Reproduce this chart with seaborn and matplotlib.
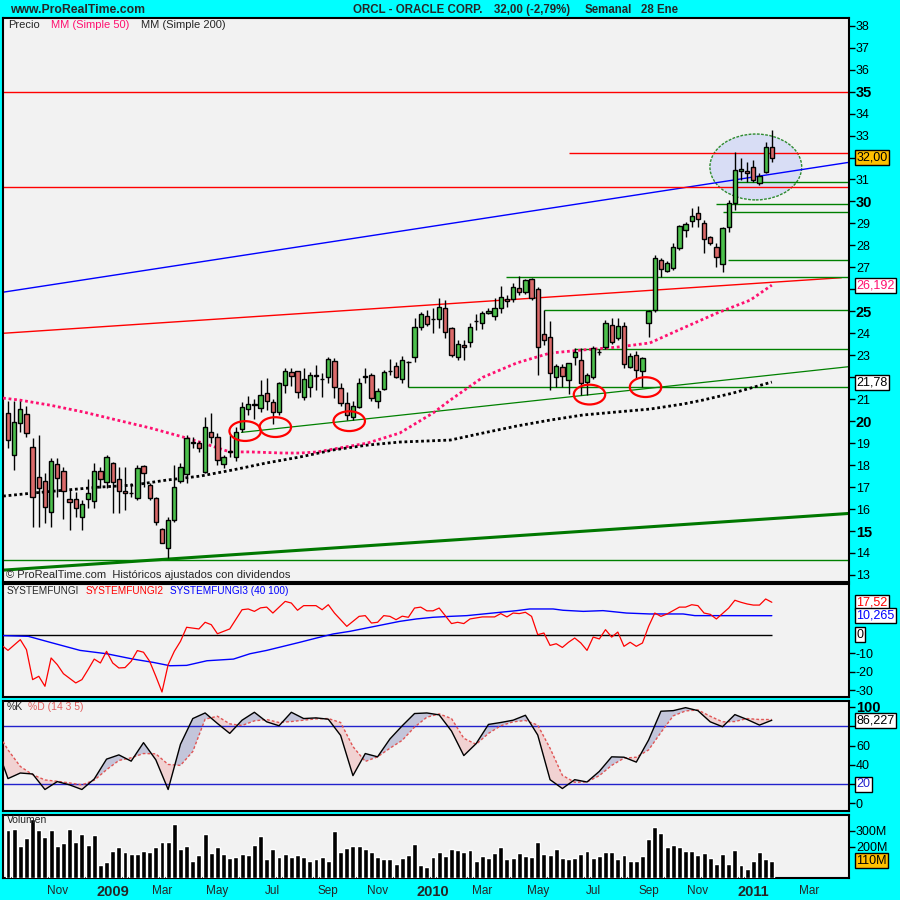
import numpy as np
import pandas as pd
import matplotlib
matplotlib.use("Agg")
import matplotlib.pyplot as plt
from matplotlib.patches import Ellipse
import seaborn as sns

sns.set_style("white")
plt.rcParams['font.family'] = ['Liberation Sans', 'DejaVu Sans']

# velas semanales ORCL, barra 0 = semana del 8 sep 2008
opens = [20.36, 18.46, 19.90, 20.33, 18.81, 17.44, 17.29, 15.88, 18.03, 17.75,
         16.47, 16.47, 15.62, 16.47, 16.36, 17.73, 17.25, 18.08, 17.35, 16.82,
         16.72, 16.52, 17.96, 17.09, 16.49, 15.08, 14.21, 15.50, 17.28, 17.60,
         19.00, 19.00, 17.67, 19.49, 19.26, 18.03, 18.60, 18.38, 19.64, 20.54,
         20.75, 20.60, 21.30, 20.89, 20.40, 21.63, 22.22, 22.28, 21.11, 21.57,
         22.05, 21.90, 22.02, 22.72, 21.49, 20.81, 20.20, 20.66, 22.00, 22.10,
         20.90, 21.46, 22.28, 22.51, 21.90, 22.70, 22.90, 24.27, 24.79, 24.63,
         24.63, 25.13, 24.22, 22.90, 23.46, 23.62, 24.56, 24.48, 24.94, 24.80,
         25.13, 25.56, 25.56, 26.04, 25.89, 26.45, 26.00, 23.97, 23.84, 22.02,
         22.48, 21.87, 22.93, 22.78, 21.80, 21.99, 23.13, 23.39, 24.38, 23.77,
         24.33, 22.45, 23.01, 22.30, 24.48, 25.06, 27.33, 26.83, 26.96, 27.87,
         28.70, 29.11, 29.46, 29.03, 28.37, 27.91, 27.15, 28.82, 29.95, 31.40,
         31.37, 31.55, 30.82, 31.35, 32.49]
highs = [20.90, 20.90, 20.90, 20.70, 19.22, 19.37, 17.63, 18.31, 18.31, 17.93,
         16.87, 16.79, 16.41, 17.35, 18.08, 17.93, 18.46, 18.16, 17.93, 17.93,
         17.17, 18.00, 18.00, 17.20, 16.56, 15.12, 15.62, 18.00, 18.08, 19.37,
         19.30, 19.10, 20.20, 20.35, 19.45, 18.46, 19.37, 19.75, 20.89, 21.14,
         21.00, 21.87, 21.95, 21.00, 21.80, 22.40, 22.44, 22.28, 22.40, 22.25,
         22.56, 22.20, 22.93, 22.86, 21.75, 21.34, 20.90, 21.95, 22.40, 22.20,
         21.50, 22.33, 22.81, 22.70, 22.96, 22.75, 24.68, 24.98, 25.06, 25.13,
         25.59, 25.50, 24.30, 23.69, 23.69, 24.45, 24.90, 25.00, 25.16, 25.59,
         26.15, 25.74, 26.27, 26.60, 26.46, 26.50, 26.10, 25.06, 24.57, 22.60,
         22.60, 22.66, 23.31, 23.31, 22.20, 23.40, 23.30, 24.60, 24.68, 24.70,
         24.50, 23.10, 23.20, 22.90, 25.06, 27.56, 27.41, 27.30, 28.10, 28.93,
         29.08, 29.69, 29.79, 29.15, 28.43, 28.09, 28.85, 30.07, 32.26, 31.96,
         31.80, 31.90, 31.30, 32.70, 33.27]
lows = [18.80, 17.78, 19.50, 19.30, 15.20, 15.20, 15.35, 15.20, 16.56, 15.53,
        15.05, 15.62, 15.05, 16.03, 16.03, 16.97, 16.94, 15.80, 15.80, 15.96,
        16.56, 16.41, 17.02, 16.41, 15.27, 14.44, 13.76, 15.43, 17.17, 17.17,
        18.80, 18.60, 17.65, 19.00, 18.00, 17.85, 18.38, 18.19, 19.52, 20.30,
        20.10, 20.40, 20.50, 19.85, 20.30, 21.27, 21.60, 21.04, 20.96, 21.10,
        21.40, 21.10, 21.72, 21.04, 20.70, 20.05, 20.05, 20.60, 21.75, 20.90,
        20.60, 21.40, 22.10, 21.95, 21.72, 21.54, 22.70, 24.15, 24.33, 24.00,
        24.22, 23.80, 22.90, 22.78, 22.78, 23.39, 24.15, 24.20, 24.90, 24.60,
        24.91, 25.20, 25.44, 25.74, 25.80, 25.50, 22.10, 23.46, 21.42, 21.57,
        21.57, 21.22, 22.56, 21.19, 21.20, 21.90, 23.00, 23.30, 23.50, 23.70,
        22.40, 22.40, 21.90, 21.54, 23.84, 24.98, 26.55, 26.80, 26.90, 27.80,
        28.40, 28.85, 28.85, 27.64, 28.02, 27.03, 26.77, 28.59, 29.60, 30.98,
        30.90, 30.90, 30.75, 31.30, 31.80]
closes = [19.14, 19.98, 20.54, 19.45, 16.56, 16.94, 16.11, 18.20, 17.43, 16.84,
          16.32, 16.03, 16.21, 16.74, 17.73, 17.35, 18.35, 17.25, 16.82, 16.72,
          16.75, 17.88, 17.63, 16.49, 15.43, 14.44, 15.50, 17.02, 17.93, 19.22,
          19.07, 18.80, 19.72, 19.30, 18.23, 18.35, 18.62, 19.52, 20.63, 20.78,
          20.80, 21.19, 20.90, 20.40, 21.72, 22.28, 22.07, 21.34, 21.90, 22.10,
          22.10, 21.90, 22.81, 21.54, 20.81, 20.28, 20.69, 21.72, 22.05, 21.04,
          21.37, 22.25, 22.30, 22.02, 22.78, 22.70, 24.27, 24.86, 24.42, 24.65,
          25.18, 24.07, 23.01, 23.51, 23.36, 24.30, 24.56, 24.94, 25.00, 25.17,
          25.63, 25.48, 26.09, 25.89, 26.43, 25.59, 23.36, 23.70, 22.20, 22.51,
          22.07, 22.66, 23.16, 21.75, 22.10, 23.31, 23.16, 24.45, 23.62, 24.33,
          22.59, 22.96, 22.33, 22.86, 25.01, 27.41, 26.91, 27.18, 27.94, 28.88,
          28.97, 29.34, 29.19, 28.28, 28.09, 27.46, 28.78, 29.91, 31.43, 31.50,
          31.28, 30.98, 31.16, 32.49, 32.00]
# volumen en millones
volumes = [302, 309, 201, 252, 377, 302, 258, 302, 201, 220,
           309, 226, 277, 207, 271, 80, 99, 169, 194, 162,
           150, 150, 169, 162, 194, 226, 226, 341, 182, 201,
           111, 143, 277, 156, 194, 150, 124, 131, 150, 143,
           207, 264, 118, 182, 131, 150, 131, 143, 131, 111,
           118, 131, 105, 296, 162, 188, 201, 201, 182, 162,
           131, 118, 118, 86, 124, 143, 213, 80, 67, 131,
           162, 137, 182, 175, 162, 175, 105, 137, 124, 156,
           194, 118, 124, 156, 137, 131, 226, 150, 143, 182,
           124, 118, 124, 150, 169, 124, 137, 162, 162, 118,
           143, 111, 105, 137, 245, 322, 283, 194, 207, 194,
           169, 169, 143, 156, 124, 92, 150, 92, 175, 80,
           54, 111, 162, 118, 111]

# medias moviles (barra, valor)
mm50_x = [-0.8, 1.9, 6.8, 12.2, 17.7, 23.1, 28.4, 31.7, 36.0, 39.3, 44.6, 47.4, 50.2,
          52.8, 58.3, 63.6, 69.0, 71.8, 77.1, 82.6, 88.0, 93.3, 98.9, 104.2, 109.6,
          115.1, 120.5, 124]
mm50_y = [21.05, 20.96, 20.73, 20.42, 20.05, 19.69, 19.28, 19.00, 18.60, 18.60, 18.55,
          18.55, 18.60, 18.73, 19.00, 19.46, 20.37, 20.96, 22.00, 22.65, 23.10, 23.24,
          23.37, 23.56, 24.24, 24.92, 25.51, 26.192]
mm200_x = [-0.8, 4.1, 9.6, 14.9, 20.3, 25.8, 31.2, 36.5, 42.0, 47.4, 52.8, 58.3, 63.6,
           71.8, 77.1, 82.6, 88.0, 93.3, 98.9, 104.2, 109.6, 112.8, 117.7, 124]
mm200_y = [16.59, 16.73, 16.87, 17.00, 17.09, 17.32, 17.50, 17.78, 18.10, 18.37, 18.69,
           18.91, 19.05, 19.14, 19.46, 19.78, 20.05, 20.28, 20.42, 20.55, 20.78, 20.96,
           21.28, 21.78]

# SYSTEMFUNGI2 / SYSTEMFUNGI3
fungi2_x = [-0.8, 0, 2, 3, 4, 5, 6, 7, 8, 9, 11, 12, 13, 14, 15, 16, 17, 18, 19, 20,
            21, 22, 23, 24, 25, 26, 27, 28, 29, 31, 32, 33, 34, 36, 38, 39, 40, 41, 42,
            43, 45, 46, 47, 48, 50, 51, 52, 53, 55, 57, 58, 59, 60, 61, 62, 63, 64, 65,
            66, 67, 68, 69, 70, 72, 73, 74, 75, 77, 79, 80, 81, 82, 83, 84, 85, 86, 87,
            88, 89, 90, 91, 92, 93, 94, 95, 96, 97, 98, 99, 100, 101, 102, 103, 104,
            105, 106, 107, 109, 110, 111, 112, 113, 114, 115, 117, 118, 119, 120, 121,
            122, 123, 124]
fungi2_y = [-6.3, -8.5, -2.7, -8.1, -24.3, -22.5, -27.9, -12.6, -16.2, -21.1, -26.1,
            -24.3, -18.9, -13.2, -15.3, -9.0, -15.3, -18.0, -17.8, -14.4, -8.6, -9.5,
            -14.4, -22.5, -31.0, -16.2, -9.0, -3.6, 4.0, 3.1, 6.7, 5.4, 0.5, 3.1, 13.5,
            13.9, 12.6, 14.5, 14.9, 11.7, 18.0, 17.1, 13.2, 15.7, 15.7, 13.5, 16.2, 11.7,
            4.5, 9.9, 10.3, 6.3, 6.7, 10.3, 9.9, 8.1, 10.0, 9.4, 14.4, 14.9, 12.9, 12.9,
            14.4, 6.0, 6.7, 6.0, 8.5, 9.6, 9.6, 11.4, 9.6, 11.7, 11.4, 12.1, 9.9, 0.0,
            0.9, -5.8, -4.9, -6.9, -4.1, -1.8, -4.5, -8.5, -1.3, -2.3, 2.7, -1.3, 1.4,
            -6.3, -4.1, -6.3, -4.5, 4.5, 11.7, 9.9, 11.2, 14.9, 14.9, 16.2, 15.7, 11.7,
            11.0, 8.5, 14.4, 18.6, 17.5, 16.6, 16.0, 16.0, 19.3, 17.52]
fungi3_x = [-0.8, 3.3, 6.8, 11.7, 16.0, 20.3, 23.6, 26.3, 29.0, 32.3, 36.6, 39.3, 42.0,
            44.7, 47.4, 50.1, 52.8, 55.5, 58.2, 60.9, 63.6, 66.3, 69.0, 71.8, 74.5,
            77.2, 79.9, 82.6, 84.7, 88.5, 90.1, 93.4, 96.6, 100.4, 104.2, 109.6, 111.5,
            124]
fungi3_y = [-0.5, -0.9, -4.1, -8.5, -10.3, -13.2, -15.0, -16.8, -16.6, -14.1, -13.2,
            -10.3, -8.5, -6.3, -4.1, -1.8, 0.4, 1.8, 3.6, 5.4, 7.2, 8.5, 9.4, 9.9, 10.3,
            11.2, 12.1, 13.0, 13.9, 13.9, 13.2, 12.6, 13.0, 11.7, 11.2, 11.2, 10.3,
            10.265]

# estocastico %K / %D (14 3 5)
stoch_x = [-0.8] + list(range(0, 125, 2))
k_vals = [40.1, 25.7, 31.5, 30.5, 14.4, 22.6, 19.2, 14.4, 25.3, 45.9, 50.3, 43.8, 63.0,
          45.2, 14.4, 61.3, 88.0, 93.8, 82.9, 72.6, 86.3, 94.5, 84.6, 80.5, 94.5, 88.0,
          88.7, 87.3, 70.5, 28.8, 51.7, 48.3, 66.8, 80.5, 93.2, 93.8, 91.8, 75.0, 49.6,
          62.0, 81.9, 83.9, 86.3, 91.4, 70.9, 24.6, 15.4, 24.6, 22.2, 33.2, 48.3, 47.9,
          42.8, 65.8, 95.6, 96.2, 99.3, 96.2, 84.6, 79.5, 92.1, 87.0, 81.2, 86.227]
d_vals = [64.0, 55.5, 38.3, 29.8, 24.3, 22.9, 21.2, 19.2, 24.0, 34.9, 44.5, 47.3, 51.7,
          51.4, 40.4, 39.4, 53.8, 87.3, 90.4, 82.5, 80.8, 85.6, 87.0, 83.9, 84.9, 86.3,
          87.7, 88.0, 83.9, 58.9, 43.5, 48.3, 57.2, 65.4, 79.1, 89.4, 92.8, 88.0, 67.5,
          61.3, 72.6, 80.5, 84.6, 86.0, 81.2, 57.2, 29.1, 21.9, 22.2, 28.8, 39.4, 46.9,
          47.9, 55.5, 73.6, 90.8, 95.9, 96.9, 90.4, 84.6, 84.9, 88.0, 87.0, 87.0]

# lineas de tendencia y soportes (barra, precio)
blue_trend = ([-0.8, 136.5], [25.87, 31.78])
red_trend = ([-0.8, 135.3], [24.00, 26.53])
green_trend = ([37.9, 136.5], [19.49, 22.48])
green_thick = ([-0.8, 136.5], [13.22, 15.80])
red_levels = [(-0.8, 35.0), (-0.8, 30.64), (91.0, 32.19)]
green_levels = [(118.0, 30.87), (114.9, 29.88), (116.0, 29.51), (116.9, 27.32),
                (80.8, 26.56), (87.0, 25.04), (91.9, 23.27), (65.0, 21.54), (-0.8, 13.67)]
circles = [(38.5, 19.55), (43.4, 19.73), (55.4, 20.0), (94.4, 21.21), (103.5, 21.55)]

XMIN, XMAX = -0.81, 136.53
BG = '#F2F2F2'

fig = plt.figure(figsize=(9, 9), dpi=100, facecolor='#00FFFF')


def panel(top, bottom):
    ax = fig.add_axes([3 / 900, 1 - bottom / 900, 846 / 900, (bottom - top) / 900])
    ax.set_facecolor(BG)
    for s in ax.spines.values():
        s.set_linewidth(1.5)
        s.set_color('black')
    ax.set_xlim(XMIN, XMAX)
    ax.yaxis.tick_right()
    ax.tick_params(axis='y', direction='out', length=4, width=1, labelsize=9, pad=1,
                   colors='black')
    ax.set_xticks([])
    return ax


def box(ax, val, txt, fc='white', color='black'):
    ax.text(1.0085, val, txt, transform=ax.get_yaxis_transform(), ha='left', va='center',
            fontsize=9, color=color, zorder=10, clip_on=False,
            bbox=dict(boxstyle='square,pad=0.12', fc=fc, ec='black', lw=1))


# ---------------- precio ----------------
ax = panel(18, 582)
ax.set_ylim(12.68, 38.35)
ticks = list(range(13, 39))
# 22, 26 y 32 quedan tapados por las etiquetas de valor
ax.set_yticks(ticks, ['' if t in (22, 26, 32) else str(t) for t in ticks])
for lab, t in zip(ax.get_yticklabels(), ticks):
    if t % 5 == 0:
        lab.set_fontweight('bold')
        lab.set_fontsize(10.5)

ax.add_patch(Ellipse((121.4, 31.57), 14.9, 3.0, fc='#D8DDF5', ec='#2E8B2E', lw=1,
                     ls=(0, (2, 1)), zorder=1))
ax.plot(*blue_trend, color='#0000FF', lw=1, zorder=2)
ax.plot(*red_trend, color='#FF0000', lw=1, zorder=2)
ax.plot(*green_trend, color='#008000', lw=0.9, zorder=2)
ax.plot(*green_thick, color='#007800', lw=2.2, zorder=2)
for x0, p in red_levels:
    ax.hlines(p, x0, XMAX, color='#FF0000', lw=1, zorder=2)
for x0, p in green_levels:
    ax.hlines(p, x0, XMAX, color='#008000', lw=1, zorder=2)

sns.lineplot(x=mm50_x, y=mm50_y, ax=ax, color='#FF1070', lw=2.0, linestyle=(0, (1, 1)),
             sort=False, estimator=None, zorder=3)
sns.lineplot(x=mm200_x, y=mm200_y, ax=ax, color='black', lw=2.0, linestyle=(0, (1, 1)),
             sort=False, estimator=None, zorder=3)

xs = np.arange(len(opens))
o, h, l, c = map(np.array, (opens, highs, lows, closes))
up = c >= o
ax.vlines(xs, l, h, color='black', lw=1, zorder=4)
ax.bar(xs, np.abs(c - o), bottom=np.minimum(o, c), width=0.7,
       color=np.where(up, '#4CC04C', '#DB6A6A'), edgecolor='black', linewidth=1, zorder=5)

for cx, cy in circles:
    ax.add_patch(Ellipse((cx, cy), 5.1, 0.9, fc='none', ec='#FF0000', lw=1.6, zorder=6))

ax.set_xlabel('')
ax.set_ylabel('')
box(ax, 32.00, '32,00', fc='#FFC000')
box(ax, 26.192, '26,192', color='#FF1070')
box(ax, 21.78, '21,78')

fig.text(8 / 900, 1 - 25 / 900, 'Precio', fontsize=8, va='center')
fig.text(51 / 900, 1 - 25 / 900, 'MM (Simple 50)', fontsize=8, va='center', color='#FF1070')
fig.text(141 / 900, 1 - 25 / 900, 'MM (Simple 200)', fontsize=8, va='center')
fig.text(6 / 900, 1 - 575 / 900, '© ProRealTime.com  Históricos ajustados con dividendos',
         fontsize=8, va='center')

# ---------------- SYSTEMFUNGI ----------------
ax2 = panel(584, 697)
ax2.set_ylim(-33.7, 27.4)
ax2.set_yticks([-30, -20, -10], ['-30', '-20', '-10'])
ax2.hlines(0, XMIN, 124, color='black', lw=1, zorder=2)
sns.lineplot(x=fungi3_x, y=fungi3_y, ax=ax2, color='#0000FF', lw=1, sort=False,
             estimator=None, zorder=3)
sns.lineplot(x=fungi2_x, y=fungi2_y, ax=ax2, color='#FF0000', lw=0.9, sort=False,
             estimator=None, zorder=4)
ax2.set_xlabel('')
ax2.set_ylabel('')
box(ax2, 17.52, '17,52', color='#FF0000')
box(ax2, 10.265, '10,265', color='#0000FF')
box(ax2, 0, '0')
fig.text(7 / 900, 1 - 591 / 900, 'SYSTEMFUNGI', fontsize=7.2, va='center')
fig.text(86 / 900, 1 - 591 / 900, 'SYSTEMFUNGI2', fontsize=7.2, va='center', color='#FF0000')
fig.text(170 / 900, 1 - 591 / 900, 'SYSTEMFUNGI3 (40 100)', fontsize=7.2, va='center',
         color='#0000FF')

# ---------------- estocastico ----------------
ax3 = panel(701, 811)
ax3.set_ylim(-7.9, 106.2)
ax3.set_yticks([0, 20, 40, 60, 80, 100], ['0', '', '40', '60', '', '100'])
lab100 = ax3.get_yticklabels()[-1]
lab100.set_fontweight('bold')
lab100.set_fontsize(10.5)
sx = np.array(stoch_x)
kv = np.array(k_vals)
dv = np.array(d_vals)
ax3.fill_between(sx, kv, dv, where=kv >= dv, interpolate=True, color='#C3C5DA', lw=0,
                 zorder=1)
ax3.fill_between(sx, kv, dv, where=kv < dv, interpolate=True, color='#F1D2D2', lw=0,
                 zorder=1)
ax3.hlines([20, 80], XMIN, XMAX, color='#2222CC', lw=1, zorder=2)
sns.lineplot(x=stoch_x, y=k_vals, ax=ax3, color='black', lw=1, sort=False,
             estimator=None, zorder=4)
ax3.plot(stoch_x, d_vals, color='#E05555', lw=1, ls=(0, (2, 1.5)), zorder=3)
ax3.set_xlabel('')
ax3.set_ylabel('')
box(ax3, 86.227, '86,227')
box(ax3, 20, '20', color='#2222CC')
fig.text(7 / 900, 1 - 707 / 900, '%K', fontsize=7.5, va='center')
fig.text(28 / 900, 1 - 707 / 900, '%D (14 3 5)', fontsize=7.5, va='center', color='#E06060')

# ---------------- volumen ----------------
ax4 = panel(815, 878)
ax4.set_ylim(0, 400)
ax4.set_yticks([200, 300], ['200M', '300M'])
fig.text(7 / 900, 1 - 820 / 900, 'Volumen', fontsize=7.5, va='center', zorder=0)
ax4.bar(xs, volumes, width=0.8, color='black', zorder=3)
box(ax4, 110, '110M', fc='#FFC000')

dates = pd.date_range('2008-09-08', periods=137, freq='W-MON')
names = {3: 'Mar', 5: 'May', 7: 'Jul', 9: 'Sep', 11: 'Nov'}
tpos, tlab = [], []
for i in range(1, len(dates)):
    m = dates[i].month
    if m != dates[i - 1].month and m % 2 == 1:
        tpos.append(i)
        tlab.append(str(dates[i].year) if m == 1 else names[m])
ax4.set_xticks(tpos, tlab)
ax4.tick_params(axis='x', direction='out', length=3, width=1, labelsize=8.5, pad=2)
for lab in ax4.get_xticklabels():
    if lab.get_text().isdigit():
        lab.set_fontweight('bold')
        lab.set_fontsize(10.5)

# cabecera
head_y = 1 - 10 / 900
fig.text(10 / 900, head_y, 'www.ProRealTime.com', fontsize=8.8, weight='bold', va='center')
fig.text(353 / 900, head_y, 'ORCL - ORACLE CORP.', fontsize=8.3, weight='bold', va='center')
fig.text(494 / 900, head_y, '32,00 (-2,79%)', fontsize=8.3, weight='bold', va='center')
fig.text(585 / 900, head_y, 'Semanal', fontsize=8.3, weight='bold', va='center')
fig.text(641 / 900, head_y, '28 Ene', fontsize=8.3, weight='bold', va='center')

fig.savefig('out.png', dpi=100, facecolor=fig.get_facecolor())
